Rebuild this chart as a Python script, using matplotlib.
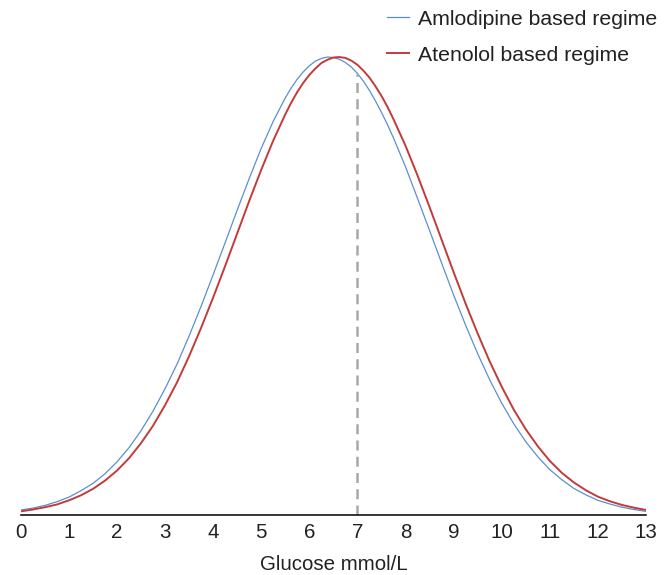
import matplotlib.pyplot as plt

plt.rcParams['font.family'] = ['Liberation Sans', 'DejaVu Sans']

# glucose grid (mmol/L), finer around the peaks, and relative density
glucose = [0, 0.25, 0.5, 0.75, 1, 1.25, 1.5, 1.75, 2, 2.25, 2.5, 2.75, 3, 3.25, 3.5, 3.75,
           4, 4.25, 4.5, 4.75, 5, 5.25, 5.5, 5.625, 5.75, 5.875, 6, 6.125, 6.25, 6.375,
           6.5, 6.625, 6.75, 6.875, 7, 7.125, 7.25, 7.375, 7.5, 7.625, 7.75, 8, 8.25,
           8.5, 8.75, 9, 9.25, 9.5, 9.75, 10, 10.25, 10.5, 10.75, 11, 11.25, 11.5, 11.75,
           12, 12.25, 12.5, 12.75, 13]

amlodipine = [0.011, 0.015, 0.021, 0.029, 0.039, 0.053, 0.069, 0.090, 0.116, 0.147,
              0.184, 0.227, 0.276, 0.330, 0.391, 0.456, 0.525, 0.595, 0.666, 0.735,
              0.801, 0.860, 0.911, 0.933, 0.952, 0.968, 0.981, 0.991, 0.997, 1.000,
              0.999, 0.995, 0.988, 0.978, 0.964, 0.947, 0.927, 0.904, 0.879, 0.852,
              0.823, 0.760, 0.691, 0.621, 0.550, 0.480, 0.414, 0.352, 0.295, 0.244,
              0.199, 0.160, 0.127, 0.099, 0.077, 0.058, 0.044, 0.032, 0.024, 0.017,
              0.012, 0.008]

atenolol = [0.008, 0.012, 0.017, 0.023, 0.032, 0.043, 0.057, 0.075, 0.097, 0.124,
            0.157, 0.195, 0.240, 0.290, 0.347, 0.409, 0.475, 0.544, 0.615, 0.686,
            0.754, 0.818, 0.875, 0.901, 0.924, 0.944, 0.961, 0.975, 0.987, 0.994,
            0.999, 1.000, 0.998, 0.992, 0.983, 0.970, 0.955, 0.936, 0.915, 0.891,
            0.864, 0.806, 0.741, 0.672, 0.601, 0.530, 0.461, 0.396, 0.335, 0.280,
            0.230, 0.187, 0.150, 0.118, 0.092, 0.071, 0.054, 0.040, 0.030, 0.022,
            0.016, 0.011]

labels = ['Amlodipine based regime', 'Atenolol based regime']
cutoff = 7
xticks = list(range(0, 14))

fig = plt.figure(figsize=(6.7, 5.75), dpi=100)
ax = fig.add_axes([0.031, 0.1043, 0.9333, 0.87])

ax.plot(glucose, amlodipine, color='#5b8fd0', lw=0.9, label=labels[0])
ax.plot(glucose, atenolol, color='#c23b3b', lw=1.4, label=labels[1])

# dashed marker at 7 mmol/L, up to the curve
top = amlodipine[glucose.index(cutoff)]
ax.vlines(cutoff, 0, top, colors='#a8a8a8', linestyles=(0, (4, 2.5)), lw=1.8)

ax.set_xlim(0, 13)
ax.set_ylim(0, 1.0923)
ax.set_xticks(xticks)
ax.set_xticklabels([str(t) for t in xticks], fontsize=14.8, color='#222222')
ax.tick_params(axis='x', length=0, pad=6)
ax.set_yticks([])
for side in ['top', 'right', 'left']:
    ax.spines[side].set_visible(False)
ax.spines['bottom'].set_linewidth(1.1)
ax.set_xlabel('Glucose mmol/L', fontsize=14.8, color='#222222', labelpad=9)

leg = ax.legend(loc='upper right', bbox_to_anchor=(0.994, 0.998), bbox_transform=fig.transFigure,
                frameon=False, fontsize=15.3, handlelength=1.04, handletextpad=0.42,
                labelspacing=0.8, borderaxespad=0.1, borderpad=0.3)
for t in leg.get_texts():
    t.set_color('#222222')

fig.savefig('out.png', dpi=100)
